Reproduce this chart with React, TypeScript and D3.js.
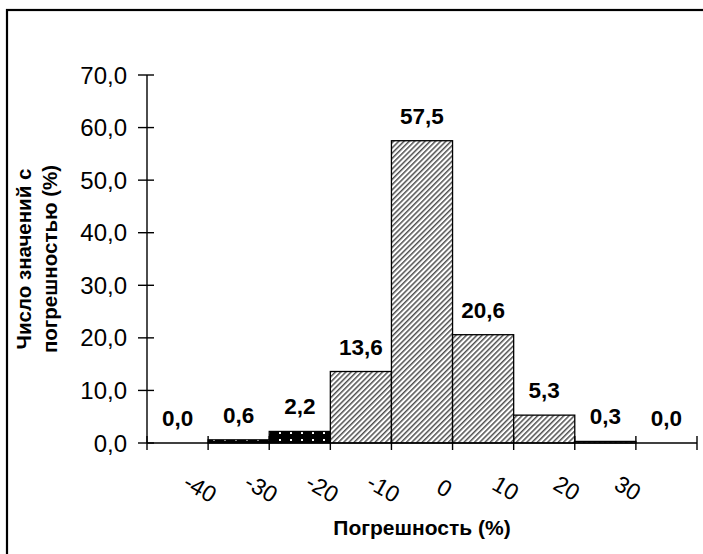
import * as d3 from "d3";

// bins of the error histogram (lower edge, %), share of values in each bin (%)
const binStarts = [-50, -40, -30, -20, -10, 0, 10, 20, 30];
const binWidth = 10;
const shares = [0.0, 0.6, 2.2, 13.6, 57.5, 20.6, 5.3, 0.3, 0.0];
// bins drawn with the black dotted fill instead of the hatching
const dottedBins = [-40, -30];
const xTickValues = [-40, -30, -20, -10, 0, 10, 20, 30];
const yTickValues = [0, 10, 20, 30, 40, 50, 60, 70];

const xTitle = "Погрешность (%)";
const yTitleLines = ["Число значений с", "погрешностью (%)"];

const W = 703;
const H = 554;
const FONT = "'Liberation Sans', Arial, Helvetica, sans-serif";

const comma = (v: number) => d3.format(".1f")(v).replace(".", ",");

export default function App() {
  const x = d3.scaleLinear().domain([-50, 40]).range([147, 697]);
  const y = d3.scaleLinear().domain([0, 70]).range([443, 75]);

  return (
    <svg
      width={W}
      height={H}
      style={{ position: "absolute", left: 0, top: 0, background: "#fff" }}
      fontFamily={FONT}
    >
      <defs>
        <pattern
          id="hatch"
          patternUnits="userSpaceOnUse"
          width={3.7}
          height={3.7}
          patternTransform="rotate(-45)"
        >
          <rect width={3.7} height={3.7} fill="#fff" />
          <rect y={0} width={3.7} height={1.5} fill="#505050" />
        </pattern>
        <pattern id="dots" patternUnits="userSpaceOnUse" width={11} height={7}>
          <rect width={11} height={7} fill="#000" />
          <rect x={4} y={5} width={2} height={2} fill="#fff" />
        </pattern>
      </defs>

      {/* outer frame */}
      <rect x={7} y={10} width={800} height={700} fill="none" stroke="#000" strokeWidth={2.2} />

      {/* bars */}
      {binStarts.map((s, i) => {
        const v = shares[i];
        if (v <= 0) return null;
        const x0 = x(s);
        const x1 = x(s + binWidth);
        const top = y(v);
        return (
          <rect
            key={s}
            x={x0}
            y={top}
            width={x1 - x0}
            height={y(0) - top}
            fill={dottedBins.includes(s) ? "url(#dots)" : "url(#hatch)"}
            stroke="#000"
            strokeWidth={1.3}
          />
        );
      })}

      {/* y axis */}
      <line x1={x(-50)} x2={x(-50)} y1={y(70)} y2={y(0)} stroke="#000" strokeWidth={1.4} />
      {yTickValues.map((t) => (
        <g key={t}>
          <line x1={x(-50) - 9} x2={x(-50) + 7} y1={y(t)} y2={y(t)} stroke="#000" strokeWidth={1.4} />
          <text x={x(-50) - 20} y={y(t)} dy="0.36em" textAnchor="end" fontSize={24} fill="#000">
            {comma(t)}
          </text>
        </g>
      ))}

      {/* x axis */}
      <line x1={x(-50)} x2={x(40)} y1={y(0)} y2={y(0)} stroke="#000" strokeWidth={1.4} />
      {[-50, ...xTickValues, 40].map((t) => (
        <line key={t} x1={x(t)} x2={x(t)} y1={y(0) - 7} y2={y(0) + 7} stroke="#000" strokeWidth={1.4} />
      ))}
      {xTickValues.map((t) => (
        <text
          key={t}
          transform={`translate(${x(t) - 8},${488}) rotate(30)`}
          textAnchor="middle"
          dy="0.35em"
          fontSize={23}
          fill="#000"
        >
          {t}
        </text>
      ))}

      {/* value labels */}
      {binStarts.map((s, i) => (
        <text
          key={s}
          x={(x(s) + x(s + binWidth)) / 2}
          y={y(shares[i]) - 17}
          textAnchor="middle"
          fontSize={22.5}
          fontWeight="bold"
          fill="#000"
        >
          {comma(shares[i])}
        </text>
      ))}

      {/* axis titles */}
      <text x={(x(-50) + x(40)) / 2} y={535} textAnchor="middle" fontSize={21} fontWeight="bold">
        {xTitle}
      </text>
      {yTitleLines.map((line, i) => (
        <text
          key={line}
          transform={`translate(${31 + i * 26},${(y(0) + y(70)) / 2}) rotate(-90)`}
          textAnchor="middle"
          fontSize={20.5}
          fontWeight="bold"
        >
          {line}
        </text>
      ))}
    </svg>
  );
}
